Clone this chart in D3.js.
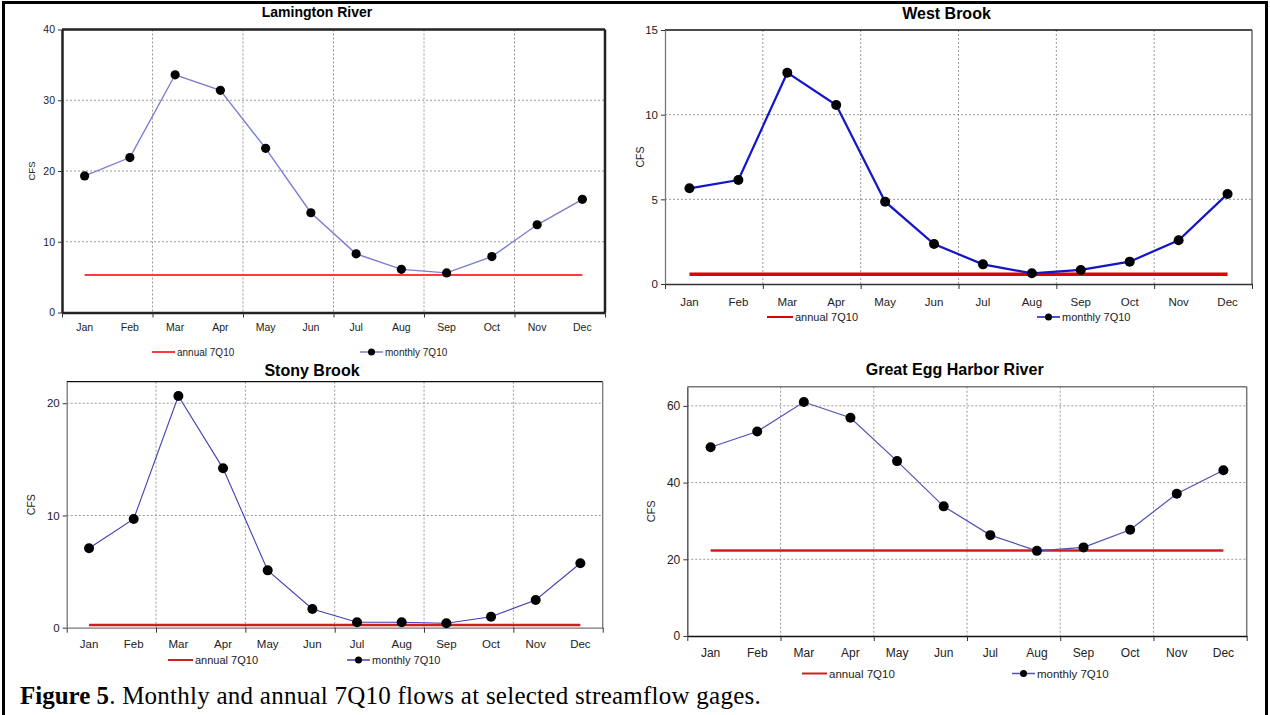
<!DOCTYPE html>
<html><head><meta charset="utf-8">
<script src="https://cdn.jsdelivr.net/npm/d3@7"></script>
<style>
html,body{margin:0;padding:0;background:#fff;}
svg{display:block;}
.sans{font-family:"Liberation Sans",Arial,sans-serif;}
.serif{font-family:"Liberation Serif","Times New Roman",serif;}
</style></head>
<body>
<svg id="chart" width="1270" height="715"></svg>
<script>
// ---------- data ----------
const months = ["Jan","Feb","Mar","Apr","May","Jun","Jul","Aug","Sep","Oct","Nov","Dec"];
const titles = ["Lamington River","West Brook","Stony Brook","Great Egg Harbor River"];
const lamingtonMonthly = [19.3,21.9,33.6,31.4,23.2,14.1,8.3,6.1,5.6,7.9,12.4,16.0];
const lamingtonAnnual = 5.3;
const westBrookMonthly = [5.65,6.14,12.48,10.57,4.86,2.36,1.16,0.63,0.83,1.32,2.58,5.32];
const westBrookAnnual = 0.57;
const stonyBrookMonthly = [7.08,9.69,20.65,14.2,5.11,1.67,0.48,0.48,0.39,0.98,2.47,5.74];
const stonyBrookAnnual = 0.24;
const greatEggMonthly = [49.2,53.3,61.0,56.9,45.6,33.8,26.3,22.2,23.1,27.7,37.1,43.2];
const greatEggAnnual = 22.3;
const yTicksLamington = [0,10,20,30,40];
const yTicksWest = [0,5,10,15];
const yTicksStony = [0,10,20];
const yTicksEgg = [0,20,40,60];
const yMax = [40,15,21.92,65];
const legendLabels = ["annual 7Q10","monthly 7Q10"];
const yLabel = "CFS";
const caption = ["Figure 5", ". Monthly and annual 7Q10 flows at selected streamflow gages."];

// ---------- layout / style ----------
const panels = [
  {title:titles[0], monthly:lamingtonMonthly, annual:lamingtonAnnual, ticks:yTicksLamington, ymax:yMax[0],
   l:62,t:29.5,r:605,b:312.5, titleX:317, titleY:17, titleSize:14,
   tickSize:10.5, labelY:332, yLabX:35, legY:352, legA:[152,175], legM:[360,383],
   lineColor:"#7c7cd0", lineW:1.4, redColor:"#ff3a3a", redW:2.2, dotR:4.6,
   frame:{top:"#222",right:"#222",left:"#222",bottom:"#222",w:2.5}},
  {title:titles[1], monthly:westBrookMonthly, annual:westBrookAnnual, ticks:yTicksWest, ymax:yMax[1],
   l:665,t:30,r:1252,b:284, titleX:946.5, titleY:19, titleSize:16,
   tickSize:11.5, labelY:307, yLabX:644, legY:317, legA:[767,793], legM:[1037,1060],
   lineColor:"#1414c8", lineW:2.2, redColor:"#e00000", redW:3.5, dotR:5,
   frame:{top:"#111",right:"#555",left:"#777",bottom:"#333",w:1.3}},
  {title:titles[2], monthly:stonyBrookMonthly, annual:stonyBrookAnnual, ticks:yTicksStony, ymax:yMax[2],
   l:66.7,t:381.7,r:602.7,b:627.7, titleX:312, titleY:376, titleSize:16,
   tickSize:11.5, labelY:649, yLabX:35, legY:660, legA:[168,193], legM:[347,370],
   lineColor:"#4040b4", lineW:1.1, redColor:"#cc2020", redW:2.5, dotR:5,
   frame:{top:"#111",right:"#777",left:"#777",bottom:"#777",w:1.3}},
  {title:titles[3], monthly:greatEggMonthly, annual:greatEggAnnual, ticks:yTicksEgg, ymax:yMax[3],
   l:687.3,t:386.7,r:1246.7,b:636, titleX:954.7, titleY:375, titleSize:16,
   tickSize:12, labelY:658, yLabX:655, legY:673.5, legA:[802,827], legM:[1012,1035],
   lineColor:"#5050b4", lineW:1.2, redColor:"#cc2020", redW:2.5, dotR:5,
   frame:{top:"#777",right:"#777",left:"#555",bottom:"#111",w:1.5}}
];

const svg = d3.select("#chart");

// outer border
svg.append("rect").attr("x",3.5).attr("y",2.5).attr("width",1263).attr("height",720)
  .attr("fill","none").attr("stroke","#000").attr("stroke-width",3);

panels.forEach(p => {
  const g = svg.append("g").attr("class","sans");
  const xb = d3.scaleBand().domain(months).range([p.l,p.r]).padding(0);
  const xl = d3.scaleLinear().domain([0,12]).range([p.l,p.r]);
  const y = d3.scaleLinear().domain([0,p.ymax]).range([p.b,p.t]);
  const cx = m => xb(m) + xb.bandwidth()/2;

  g.append("rect").attr("x",p.l).attr("y",p.t).attr("width",p.r-p.l).attr("height",p.b-p.t).attr("fill","#fff");

  // grid
  const vg = [2,4,6,8,10];
  g.selectAll(".vg").data(vg).join("line")
    .attr("x1",d=>xl(d)).attr("x2",d=>xl(d)).attr("y1",p.t).attr("y2",p.b)
    .attr("stroke","#9a9a9a").attr("stroke-width",1).attr("stroke-dasharray","2,2");
  g.selectAll(".hg").data(p.ticks.filter(v=>v>0 && y(v)>p.t+1)).join("line")
    .attr("x1",p.l).attr("x2",p.r).attr("y1",d=>y(d)).attr("y2",d=>y(d))
    .attr("stroke","#9a9a9a").attr("stroke-width",1).attr("stroke-dasharray","2,2");

  // frame
  const f = p.frame;
  g.append("line").attr("x1",p.l).attr("x2",p.r).attr("y1",p.t).attr("y2",p.t).attr("stroke",f.top).attr("stroke-width",f.w);
  g.append("line").attr("x1",p.r).attr("x2",p.r).attr("y1",p.t).attr("y2",p.b).attr("stroke",f.right).attr("stroke-width",f.w);

  // x axis tick marks at 2-month boundaries
  const xa = g.append("g").attr("transform",`translate(0,${p.b})`)
    .call(d3.axisBottom(xl).tickValues([0,2,4,6,8,10,12]).tickFormat("").tickSize(5).tickSizeOuter(0));
  xa.select(".domain").attr("stroke",f.bottom).attr("stroke-width",f.w);
  xa.selectAll(".tick line").attr("stroke","#333");
  // month labels
  const xm = g.append("g").attr("transform",`translate(0,${p.labelY - p.tickSize*0.8})`)
    .call(d3.axisBottom(xb).tickSize(0).tickPadding(0));
  xm.select(".domain").remove();
  xm.selectAll("text").attr("font-size",p.tickSize).attr("fill","#222").attr("dy","0.71em")
    .style("font-family",'"Liberation Sans",Arial,sans-serif');

  // y axis
  const ya = g.append("g").attr("transform",`translate(${p.l},0)`)
    .call(d3.axisLeft(y).tickValues(p.ticks).tickSize(4).tickSizeOuter(0).tickPadding(3));
  ya.select(".domain").attr("stroke",f.left).attr("stroke-width",f.w);
  ya.selectAll(".tick line").attr("stroke","#333");
  ya.selectAll("text").attr("font-size",p.tickSize).attr("fill","#222")
    .style("font-family",'"Liberation Sans",Arial,sans-serif');

  // y label
  g.append("text").attr("transform",`translate(${p.yLabX},${(p.t+p.b)/2}) rotate(-90)`)
    .attr("text-anchor","middle").attr("font-size",p.tickSize-1).attr("fill","#222").text(yLabel);

  // annual line
  g.append("line").attr("x1",cx(months[0])).attr("x2",cx(months[11]))
    .attr("y1",y(p.annual)).attr("y2",y(p.annual))
    .attr("stroke",p.redColor).attr("stroke-width",p.redW);

  // monthly line + markers
  const line = d3.line().x((d,i)=>cx(months[i])).y(d=>y(d));
  g.append("path").datum(p.monthly).attr("d",line).attr("fill","none")
    .attr("stroke",p.lineColor).attr("stroke-width",p.lineW);
  g.selectAll(".dot").data(p.monthly).join("circle")
    .attr("cx",(d,i)=>cx(months[i])).attr("cy",d=>y(d)).attr("r",p.dotR).attr("fill","#000");

  // title
  g.append("text").attr("x",p.titleX).attr("y",p.titleY).attr("text-anchor","middle")
    .attr("font-weight","bold").attr("font-size",p.titleSize).attr("fill","#000").text(p.title);

  // legend
  const ls = p.tickSize - 0.5;
  g.append("line").attr("x1",p.legA[0]).attr("x2",p.legA[1]).attr("y1",p.legY).attr("y2",p.legY)
    .attr("stroke",p.redColor).attr("stroke-width",2);
  g.append("text").attr("x",p.legA[1]+2).attr("y",p.legY).attr("dy","0.35em").attr("font-size",ls)
    .attr("fill","#222").text(legendLabels[0]);
  g.append("line").attr("x1",p.legM[0]).attr("x2",p.legM[1]).attr("y1",p.legY).attr("y2",p.legY)
    .attr("stroke",p.lineColor).attr("stroke-width",1.5);
  g.append("circle").attr("cx",(p.legM[0]+p.legM[1])/2).attr("cy",p.legY).attr("r",3.5).attr("fill","#000");
  g.append("text").attr("x",p.legM[1]+2).attr("y",p.legY).attr("dy","0.35em").attr("font-size",ls)
    .attr("fill","#222").text(legendLabels[1]);
});

// caption
const cap = svg.append("text").attr("class","serif").attr("x",20).attr("y",704).attr("font-size",25).attr("fill","#000");
cap.append("tspan").attr("font-weight","bold").text(caption[0]);
cap.append("tspan").attr("letter-spacing",0.25).text(caption[1]);
</script>
</body></html>
